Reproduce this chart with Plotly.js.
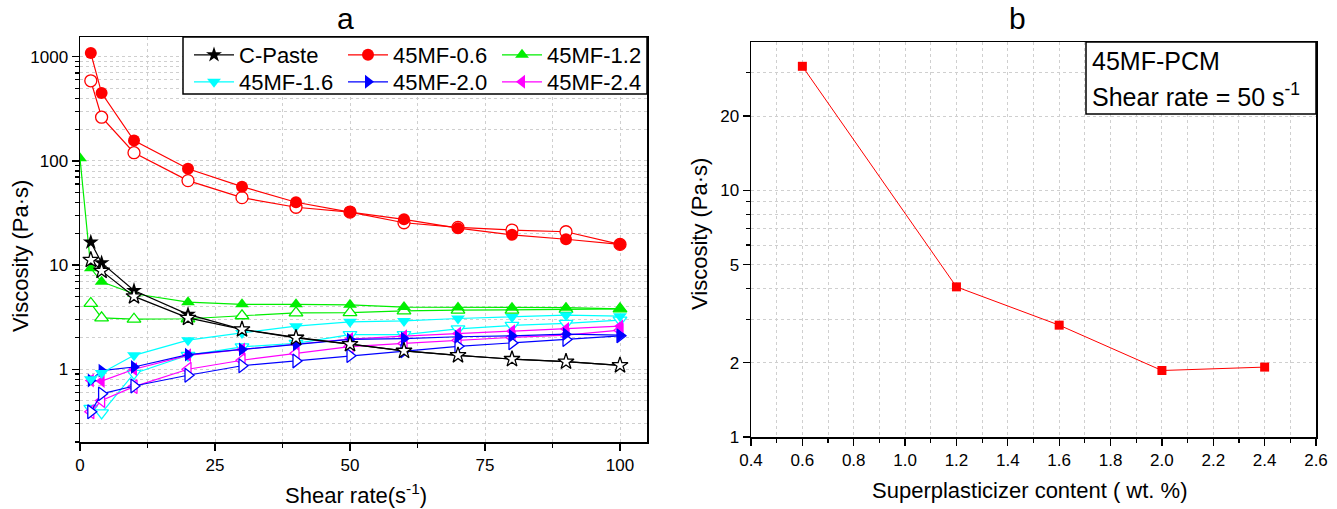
<!DOCTYPE html>
<html><head><meta charset="utf-8">
<script src="https://cdn.plot.ly/plotly-3.0.1.min.js"></script>
<style>html,body{margin:0;padding:0;background:#fff}#chart{width:1337px;height:509px}</style>
</head><body><div id="chart"></div>
<script>
// ---- data (panel a) ----
const shearRate = [2, 4, 10, 20, 30, 40, 50, 60, 70, 80, 90, 100];
const shearRate12 = [0, 2, 4, 10, 20, 30, 40, 50, 60, 70, 80, 90, 100];
const cPasteUp   = [16.6, 10.5, 5.7, 3.36, 2.41, 2.02, 1.74, 1.50, 1.36, 1.25, 1.18, 1.09];
const cPasteDown = [11.2, 8.8, 5.0, 3.11, 2.41, 2.0, 1.74, 1.50, 1.36, 1.25, 1.18, 1.09];
const mf06Up   = [1086, 448, 157, 84, 56.6, 40.1, 32.3, 27.5, 22.6, 19.5, 17.7, 15.8];
const mf06Down = [588, 263, 120, 64.7, 44.4, 35.9, 32.3, 25.5, 23.0, 21.7, 20.9, 15.8];
const mf12Up   = [106, 9.3, 6.9, 5.3, 4.4, 4.2, 4.2, 4.15, 3.95, 3.92, 3.9, 3.9, 3.8];
const mf12Down = [4.28, 3.11, 3.02, 3.05, 3.26, 3.48, 3.5, 3.63, 3.69, 3.7, 3.75, 3.8];
const mf16Up   = [0.80, 0.92, 1.36, 1.9, 2.23, 2.59, 2.85, 2.91, 3.07, 3.18, 3.3, 3.23];
const mf16Down = [0.42, 0.38, 0.91, 1.36, 1.64, 1.77, 2.15, 2.15, 2.44, 2.63, 2.75, 2.96];
const mf20Up   = [0.78, 0.97, 1.05, 1.38, 1.55, 1.73, 1.93, 1.97, 2.05, 2.09, 2.17, 2.12];
const mf20Down = [0.39, 0.58, 0.69, 0.875, 1.08, 1.2, 1.35, 1.5, 1.66, 1.79, 1.93, 2.09];
const mf24Up   = [0.78, 0.77, 1.0, 1.36, 1.55, 1.75, 1.95, 2.08, 2.2, 2.32, 2.43, 2.59];
const mf24Down = [0.39, 0.5, 0.68, 1.0, 1.22, 1.42, 1.65, 1.77, 1.9, 2.02, 2.12, 2.37];
const seriesNames = ['C-Paste', '45MF-0.6', '45MF-1.2', '45MF-1.6', '45MF-2.0', '45MF-2.4'];
const xTicksA = [0, 25, 50, 75, 100];
const yTicksA = [1, 10, 100, 1000];
// ---- data (panel b) ----
const spContent = [0.6, 1.2, 1.6, 2.0, 2.4];
const visc50 = [31.8, 4.06, 2.84, 1.86, 1.92];
const xTicksB = [0.4, 0.6, 0.8, 1.0, 1.2, 1.4, 1.6, 1.8, 2.0, 2.2, 2.4, 2.6];
const yTicksB = [1, 2, 5, 10, 20];

const W = 1337, H = 509;
const px = v => v / W, py = v => 1 - v / H;
const FONT = 'Liberation Sans, Arial, sans-serif';

function mk(x, y, name, color, symbol, filled, legend, show) {
  return {
    x: x, y: y, name: name, type: 'scatter', mode: 'lines+markers',
    xaxis: 'x', yaxis: 'y', legend: legend, showlegend: show,
    line: {color: color, width: 1.2},
    marker: {symbol: symbol, size: 12, color: filled ? color : '#ffffff',
             line: {color: color, width: filled ? 0 : 1.3}}
  };
}

const traces = [
  mk(shearRate, mf06Down, seriesNames[1], '#ff0000', 'circle', false, 'legend', false),
  mk(shearRate, mf12Down, seriesNames[2], '#00ee00', 'triangle-up', false, 'legend', false),
  mk(shearRate, mf16Down, seriesNames[3], '#00ffff', 'triangle-down', false, 'legend2', false),
  mk(shearRate, mf24Down, seriesNames[5], '#ff00ff', 'triangle-left', false, 'legend2', false),
  mk(shearRate, mf20Down, seriesNames[4], '#0000ff', 'triangle-right', false, 'legend2', false),
  mk(shearRate, mf24Up, seriesNames[5], '#ff00ff', 'triangle-left', true, 'legend2', false),
  mk(shearRate, mf20Up, seriesNames[4], '#0000ff', 'triangle-right', true, 'legend2', false),
  mk(shearRate, mf16Up, seriesNames[3], '#00ffff', 'triangle-down', true, 'legend2', false),
  mk(shearRate12, mf12Up, seriesNames[2], '#00ee00', 'triangle-up', true, 'legend', false),
  mk(shearRate, mf06Up, seriesNames[1], '#ff0000', 'circle', true, 'legend', false),
  mk(shearRate, cPasteUp, seriesNames[0], '#000000', 'star', true, 'legend', false),
  mk(shearRate, cPasteDown, seriesNames[0], '#000000', 'star', false, 'legend', false),
];
// legend entries (row 1 / row 2)
const legendRows = [
  [[0, '#000000', 'star'], [1, '#ff0000', 'circle'], [2, '#00ee00', 'triangle-up']],
  [[3, '#00ffff', 'triangle-down'], [4, '#0000ff', 'triangle-right'], [5, '#ff00ff', 'triangle-left']]
];
legendRows.forEach((row, r) => row.forEach(([i, c, s]) => {
  traces.push({x: [null], y: [null], name: seriesNames[i], type: 'scatter', mode: 'lines+markers',
    xaxis: 'x', yaxis: 'y', legend: r === 0 ? 'legend' : 'legend2', showlegend: true,
    line: {color: c, width: 1.2}, marker: {symbol: s, size: 12, color: c}});
}));

traces.push({
  x: spContent, y: visc50, type: 'scatter', mode: 'lines+markers', xaxis: 'x2', yaxis: 'y2',
  showlegend: false, line: {color: '#ff0000', width: 1},
  marker: {symbol: 'square', size: 9, color: '#ff0000'}
});

const gridC = '#cfcfcf';
const axBase = {
  showline: true, linecolor: '#000', linewidth: 1.5, mirror: true,
  ticks: 'outside', ticklen: 7, tickwidth: 1.2, tickcolor: '#000',
  showgrid: true, gridcolor: gridC, griddash: 'dot', gridwidth: 1,
  zeroline: false, tickfont: {size: 17, color: '#000', family: FONT}
};
const minorA = {ticks: 'outside', ticklen: 4, tickcolor: '#000', showgrid: true, gridcolor: gridC, griddash: 'dot', gridwidth: 1};

const yMinorA = [];
[0.1, 1, 10, 100].forEach(d => { for (let k = 2; k <= 9; k++) yMinorA.push(k * d); });

const ann = (text, x, y, size, extra) => Object.assign({text: text, xref: 'paper', yref: 'paper',
  x: px(x), y: py(y), xanchor: 'center', yanchor: 'middle', showarrow: false,
  font: {size: size, family: FONT, color: '#000'}}, extra || {});

const legBase = {orientation: 'h', xanchor: 'left', yanchor: 'top',
  bgcolor: 'rgba(0,0,0,0)', borderwidth: 0, entrywidth: 99, entrywidthmode: 'pixels',
  font: {size: 22, family: FONT, color: '#000'}, itemwidth: 40};

const layout = {
  width: W, height: H, margin: {l: 0, r: 0, t: 0, b: 0},
  paper_bgcolor: '#fff', plot_bgcolor: '#fff',
  font: {family: FONT, color: '#000'},
  xaxis: Object.assign({}, axBase, {domain: [px(80), px(647)], range: [0, 105],
    tickvals: xTicksA, ticktext: xTicksA.map(String),
    minor: Object.assign({}, minorA, {tickvals: [12.5, 37.5, 62.5, 87.5]})}),
  yaxis: Object.assign({}, axBase, {domain: [py(442), py(37)], type: 'log', range: [Math.log10(0.2), 3.19],
    tickvals: yTicksA, ticktext: yTicksA.map(String),
    minor: Object.assign({}, minorA, {tickvals: yMinorA})}),
  xaxis2: Object.assign({}, axBase, {domain: [px(751), px(1316)], range: [0.4, 2.6], anchor: 'y2',
    tickvals: xTicksB, ticktext: xTicksB.map(v => v.toFixed(1)),
    minor: Object.assign({}, minorA, {tickvals: [0.5, 0.7, 0.9, 1.1, 1.3, 1.5, 1.7, 1.9, 2.1, 2.3, 2.5]})}),
  yaxis2: Object.assign({}, axBase, {domain: [py(437), py(42)], type: 'log', range: [0, Math.log10(39.9)], anchor: 'x2',
    tickvals: yTicksB, ticktext: yTicksB.map(String),
    minor: Object.assign({}, minorA, {tickvals: [3, 4, 6, 7, 8, 9, 30]})}),
  legend: Object.assign({}, legBase, {x: px(189), y: py(34)}),
  legend2: Object.assign({}, legBase, {x: px(189), y: py(61)}),
  shapes: [
    {type: 'rect', xref: 'paper', yref: 'paper', x0: px(183), x1: px(647), y0: py(94), y1: py(37),
     line: {color: '#000', width: 1.5}, fillcolor: '#fff', layer: 'above'},
    {type: 'rect', xref: 'paper', yref: 'paper', x0: px(1086), x1: px(1316), y0: py(114), y1: py(42),
     line: {color: '#000', width: 1.5}, fillcolor: '#fff', layer: 'above'}
  ],
  annotations: [
    ann('a', 345, 18, 30),
    ann('b', 1017, 18, 30),
    ann('Viscosity (Pa·s)', 21, 256, 22, {textangle: -90}),
    ann('Viscosity (Pa·s)', 700, 234, 22, {textangle: -90}),
    ann('Shear rate(s<sup>-1</sup>)', 356, 494, 22),
    ann('Superplasticizer content ( wt. %)', 1029, 490, 22),
    ann('45MF-PCM', 1090, 61, 25, {xanchor: 'left'}),
    ann('Shear rate = 50 s<sup>-1</sup>', 1090, 95, 25, {xanchor: 'left'})
  ]
};

Plotly.newPlot('chart', traces, layout, {displayModeBar: false, staticPlot: true});
</script></body></html>
